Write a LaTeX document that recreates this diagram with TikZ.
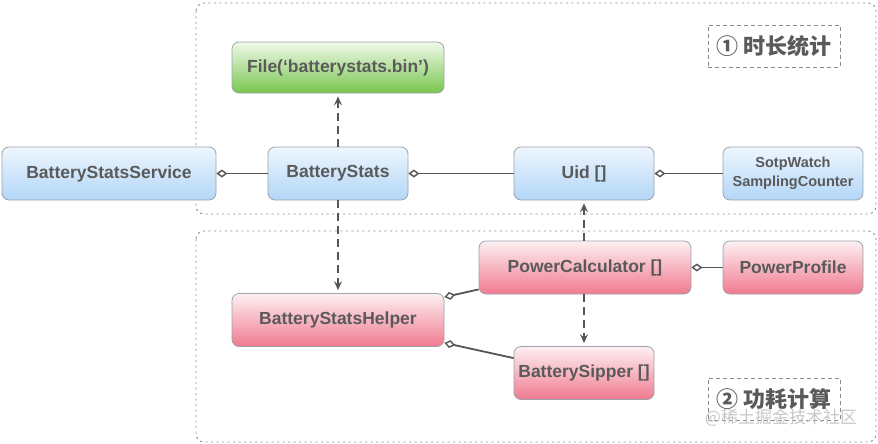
\documentclass[tikz,border=0pt]{standalone}
\usepackage{fontspec}
\setmainfont{Liberation Sans}
\newfontfamily\cjk{Noto Sans CJK SC}
\usetikzlibrary{arrows.meta}
\definecolor{txt}{HTML}{5A5A5A}
\definecolor{lnc}{HTML}{555555}
\definecolor{bdr}{HTML}{9CA3AB}
\definecolor{blueT}{HTML}{EEF6FE}
\definecolor{blueB}{HTML}{B2D6F7}
\definecolor{greenT}{HTML}{F0F9EA}
\definecolor{greenB}{HTML}{78C64E}
\definecolor{pinkT}{HTML}{FDF0F2}
\definecolor{pinkB}{HTML}{F07A90}
\definecolor{dotc}{HTML}{8A8A8A}
\tikzset{
  box/.style={draw=bdr, line width=0.8pt, rounded corners=7pt, minimum height=53pt,
    inner sep=0pt, align=center, text=txt, font=\fontsize{17.5}{20}\selectfont\bfseries},
  bluebox/.style={box, top color=blueT, bottom color=blueB},
  greenbox/.style={box, top color=greenT, bottom color=greenB},
  pinkbox/.style={box, top color=pinkT, bottom color=pinkB},
  agg/.style={draw=lnc, line width=1.8pt, {Diamond[open, length=11pt, width=8pt, line width=1.4pt, fill=white]}-},
  dep/.style={draw=lnc, line width=1.8pt, dash pattern=on 8pt off 5pt, -{Stealth[length=9pt, width=8pt, inset=3.5pt]}, shorten >=3pt},
  region/.style={draw=dotc, line width=0.9pt, dash pattern=on 2pt off 3.5pt, rounded corners=8pt},
  tagbox/.style={draw=dotc, line width=0.9pt, dash pattern=on 4pt off 3pt, minimum width=132pt, minimum height=42pt,
    inner sep=0pt, text=txt, font=\cjk\fontsize{22}{25}\selectfont\bfseries}
}
\begin{document}
\begin{tikzpicture}[x=1pt, y=-1pt]
\useasboundingbox (0,0) rectangle (878,444);
% regions
\draw[region] (196,3) rectangle (876,214);
\draw[region] (196,231) rectangle (876,442);
% tags
\node[tagbox] (tag1) at (774,46) {① 时长统计};
\node[tagbox] (tag2) at (774,399) {② 功耗计算};
% nodes
\node[greenbox, minimum width=212pt, minimum height=51pt] (file) at (338,67.5) {File(‘batterystats.bin’)};
\node[bluebox, minimum width=214pt] (svc) at (109,173.5) {BatteryStatsService};
\node[bluebox, minimum width=140pt] (bs) at (338,173.5) {BatteryStats};
\node[bluebox, minimum width=140pt] (uid) at (584,173.5) {Uid []};
\node[bluebox, minimum width=140pt, font=\fontsize{14.5}{19}\selectfont\bfseries] (sw) at (793,173.5) {SotpWatch\\SamplingCounter};
\node[pinkbox, minimum width=212pt] (pc) at (585,267.5) {PowerCalculator []};
\node[pinkbox, minimum width=140pt] (pp) at (793,267.5) {PowerProfile};
\node[pinkbox, minimum width=212pt] (helper) at (338,320) {BatteryStatsHelper};
\node[pinkbox, minimum width=140pt] (sipper) at (584,373) {BatterySipper []};
% connectors
\draw[agg] (svc.east) -- (bs.west);
\draw[agg] (bs.east) -- (uid.west);
\draw[agg] (uid.east) -- (sw.west);
\draw[agg] (pc.east) -- (pp.west);
\draw[agg] ([yshift=-4pt]helper.north east) -- ([yshift=5pt]pc.south west);
\draw[agg] ([yshift=4pt]helper.south east) -- ([yshift=-12pt]sipper.north west);
\draw[dep] (bs.north) -- (file.south);
\draw[dep] (bs.south) -- (helper.north);
\draw[dep] (pc.north -| uid.south) -- (uid.south);
\draw[dep] (pc.south -| sipper.north) -- (sipper.north);
% watermark
\node[text=black!22, font=\cjk\fontsize{17}{20}\selectfont] (wm) at (781,418) {@稀土掘金技术社区};
\end{tikzpicture}
\end{document}
